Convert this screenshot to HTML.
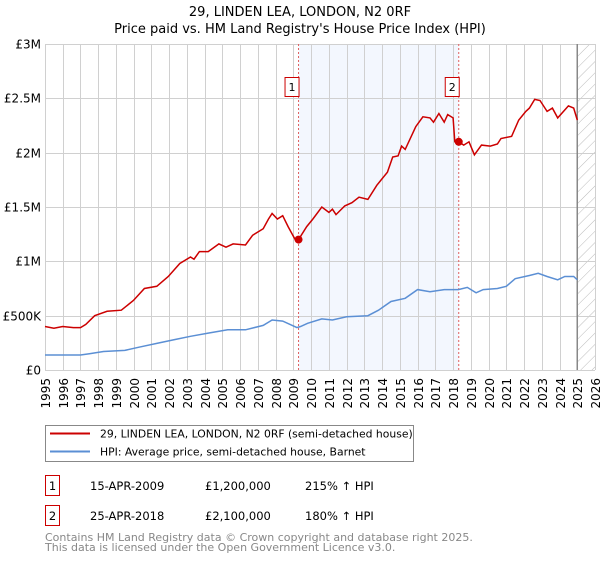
<!DOCTYPE html>
<html><head><meta charset="utf-8"><style>
body{margin:0;background:#fff;width:600px;height:560px;overflow:hidden;font-family:"DejaVu Sans","Liberation Sans",sans-serif}
svg text{font-family:"DejaVu Sans","Liberation Sans",sans-serif}
</style></head><body>
<svg id="chart" width="600" height="560" xmlns="http://www.w3.org/2000/svg">
<defs><pattern id="hatch" patternUnits="userSpaceOnUse" width="8" height="8" patternTransform="rotate(45)"><line x1="0" y1="0" x2="0" y2="8" stroke="#bbb" stroke-width="1"/></pattern></defs>
<text x="300" y="16" text-anchor="middle" font-size="13">29, LINDEN LEA, LONDON, N2 0RF</text>
<text x="300" y="33" text-anchor="middle" font-size="13">Price paid vs. HM Land Registry's House Price Index (HPI)</text>
<g id="grid"></g><g id="series"></g><g id="axes"></g>
<g>
<rect x="45.5" y="425.5" width="368" height="36" fill="#fff" stroke="#888"/>
<line x1="50" y1="433.5" x2="90" y2="433.5" stroke="#cc0000" stroke-width="2"/>
<text x="100" y="437.5" font-size="10.8">29, LINDEN LEA, LONDON, N2 0RF (semi-detached house)</text>
<line x1="50" y1="451.5" x2="90" y2="451.5" stroke="#5b8fd4" stroke-width="2"/>
<text x="100" y="455.5" font-size="10.8">HPI: Average price, semi-detached house, Barnet</text>
</g>
<g font-size="11.5">
<rect x="45.5" y="475.5" width="14" height="20" fill="#fff" stroke="#cc0000"/><text x="52.5" y="490" text-anchor="middle">1</text>
<text x="90" y="490">15-APR-2009</text><text x="205" y="490">£1,200,000</text><text x="305" y="490">215% ↑ HPI</text>
<rect x="45.5" y="505.5" width="14" height="20" fill="#fff" stroke="#cc0000"/><text x="52.5" y="520" text-anchor="middle">2</text>
<text x="90" y="520">25-APR-2018</text><text x="205" y="520">£2,100,000</text><text x="305" y="520">180% ↑ HPI</text>
</g>
<text x="45" y="541" font-size="11" fill="#888">Contains HM Land Registry data © Crown copyright and database right 2025.</text>
<text x="45" y="551" font-size="11" fill="#888">This data is licensed under the Open Government Licence v3.0.</text>
</svg>
<script>
const redYears=[1995.0,1995.5,1996.0,1996.6,1997.0,1997.3,1997.8,1998.5,1999.3,1999.98,2000.6,2001.3,2001.95,2002.6,2003.2,2003.4,2003.7,2004.2,2004.8,2005.2,2005.6,2006.3,2006.7,2007.3,2007.6,2007.8,2008.1,2008.4,2008.7,2009.1,2009.29,2009.75,2010.1,2010.6,2011.0,2011.2,2011.4,2011.9,2012.3,2012.7,2013.2,2013.7,2014.3,2014.6,2014.9,2015.1,2015.3,2015.9,2016.3,2016.7,2016.9,2017.2,2017.5,2017.7,2018.0,2018.1,2018.32,2018.6,2018.9,2019.2,2019.6,2020.1,2020.5,2020.7,2021.3,2021.7,2022.1,2022.3,2022.6,2022.9,2023.3,2023.6,2023.9,2024.5,2024.8,2025.0];
const redValues=[0.40,0.385,0.40,0.39,0.39,0.42,0.50,0.54,0.55,0.64,0.75,0.77,0.86,0.98,1.04,1.02,1.09,1.09,1.16,1.13,1.16,1.15,1.24,1.30,1.39,1.44,1.39,1.42,1.32,1.20,1.20,1.32,1.39,1.50,1.45,1.48,1.43,1.51,1.54,1.59,1.57,1.70,1.82,1.96,1.97,2.06,2.03,2.24,2.33,2.32,2.28,2.36,2.28,2.35,2.32,2.10,2.10,2.07,2.10,1.98,2.07,2.06,2.08,2.13,2.15,2.30,2.38,2.41,2.49,2.48,2.38,2.41,2.32,2.43,2.41,2.30];
const hpiYears=[1995.0,1996.0,1997.0,1997.5,1998.3,1999.5,2000.3,2001.3,2002.3,2003.2,2004.2,2005.3,2006.3,2007.3,2007.8,2008.4,2009.2,2009.4,2009.8,2010.6,2011.2,2012.0,2013.2,2013.8,2014.5,2015.3,2016.0,2016.7,2017.5,2018.3,2018.8,2019.3,2019.7,2020.5,2021.0,2021.5,2022.3,2022.8,2023.3,2023.9,2024.3,2024.8,2025.0];
const hpiValues=[0.138,0.138,0.138,0.15,0.17,0.18,0.21,0.245,0.28,0.31,0.34,0.37,0.37,0.41,0.46,0.45,0.39,0.40,0.43,0.47,0.46,0.49,0.50,0.55,0.63,0.66,0.74,0.72,0.74,0.74,0.76,0.71,0.74,0.75,0.77,0.84,0.87,0.89,0.86,0.83,0.86,0.86,0.83];
const saleYears=[2009.29,2018.32];
const saleValues=[1.2,2.1];
const saleLabels=["1","2"];
const yTicks=[0,0.5,1,1.5,2,2.5,3];
const yTickLabels=["£0","£500K","£1M","£1.5M","£2M","£2.5M","£3M"];
const xStart=1995,xEnd=2026,dataEnd=2025.0;
const L=45,R=595,T=44,B=370;
const xs=y=>L+(y-xStart)/(xEnd-xStart)*(R-L);
const ys=v=>B-v/3*(B-T);
const NS="http://www.w3.org/2000/svg";
function mk(parent,tag,attrs){const e=document.createElementNS(NS,tag);for(const k in attrs)e.setAttribute(k,attrs[k]);parent.appendChild(e);return e;}
const grid=document.getElementById('grid'),series=document.getElementById('series'),axes=document.getElementById('axes');
const shade=mk(grid,'rect',{x:xs(saleYears[0]),y:T,width:xs(saleYears[1])-xs(saleYears[0]),height:B-T,fill:'#eef3fd',opacity:0.7});


const hatch=mk(grid,'rect',{x:xs(dataEnd),y:T,width:R-xs(dataEnd),height:B-T,fill:'url(#hatch)'});


for(let yr=xStart;yr<=xEnd;yr++){
  const x=Math.round(xs(yr))+0.5;
  mk(grid,'line',{x1:x,y1:T,x2:x,y2:B,stroke:'#d0d0d0'});
  const t=mk(axes,'text',{transform:`translate(${x+4.5},${B+8}) rotate(-90)`,'text-anchor':'end','font-size':12});
  t.textContent=yr;
  
  
}
yTicks.forEach((v,i)=>{
  const y=Math.round(ys(v))+0.5;
  mk(grid,'line',{x1:L,y1:y,x2:R,y2:y,stroke:'#d0d0d0'});
  const t=mk(axes,'text',{x:L-4,y:y+4,'text-anchor':'end','font-size':12});
  t.textContent=yTickLabels[i];
  
  
});
mk(grid,'line',{x1:xs(dataEnd),y1:T,x2:xs(dataEnd),y2:B,stroke:'#888','stroke-width':1.5});
saleYears.forEach((yr,i)=>{
  const x=xs(yr);
  const d=mk(grid,'line',{x1:x,y1:T,x2:x,y2:B,stroke:'#e06060','stroke-dasharray':'2,2'});
  
  
  const bx=mk(axes,'rect',{x:x-13.5,y:77.5,width:14,height:19,fill:'#fff',stroke:'#cc0000'});
  
  
  const t=mk(axes,'text',{x:x-6.5,y:91,'text-anchor':'middle','font-size':11});
  t.textContent=saleLabels[i];
});
function path(xa,va){return xa.map((y,i)=>(i?'L':'M')+xs(y).toFixed(1)+','+ys(va[i]).toFixed(1)).join('');}
const hp=mk(series,'path',{d:path(hpiYears,hpiValues),fill:'none',stroke:'#5b8fd4','stroke-width':1.5});


const rp=mk(series,'path',{d:path(redYears,redValues),fill:'none',stroke:'#cc0000','stroke-width':1.5});


saleYears.forEach((yr,i)=>{
  const c=mk(series,'circle',{cx:xs(yr),cy:ys(saleValues[i]),r:4,fill:'#cc0000'});
  
  
});
</script>
</body></html>
